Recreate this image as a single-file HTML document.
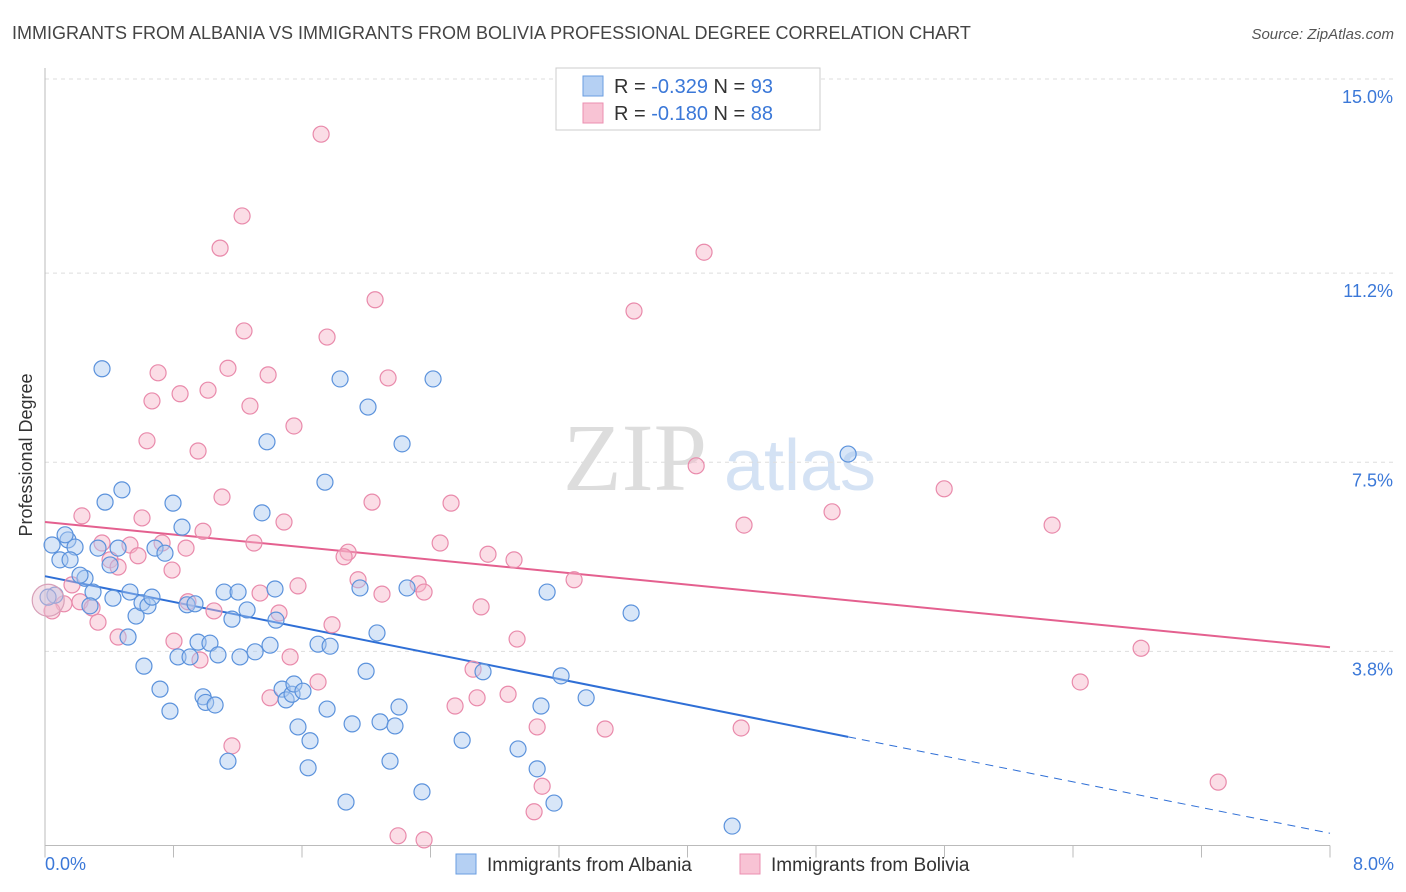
<!DOCTYPE html>
<html><head><meta charset="utf-8"><style>
body{margin:0;background:#fff;font-family:"Liberation Sans",sans-serif;}
svg{display:block}
</style></head><body>
<svg id="chart" width="1406" height="892">
<text x="12" y="39" font-size="18" fill="#444">IMMIGRANTS FROM ALBANIA VS IMMIGRANTS FROM BOLIVIA PROFESSIONAL DEGREE CORRELATION CHART</text>
<text x="1394" y="39" font-size="15" fill="#555" font-style="italic" text-anchor="end">Source: ZipAtlas.com</text>
<text x="32" y="455" font-size="18" fill="#333" text-anchor="middle" transform="rotate(-90 32 455)">Professional Degree</text>
<g>
<text x="635" y="490" font-size="96" fill="#ddd" font-family="Liberation Serif,serif" text-anchor="middle">ZIP</text>
<text x="800" y="490" font-size="72" fill="#d4e2f4" text-anchor="middle">atlas</text>
</g>
<g id="grid"></g><g id="lines"></g><g id="pts"></g>
<g>
<rect x="556" y="68" width="264" height="62" fill="#fff" stroke="#ccc"/>
<rect x="583" y="76" width="20" height="20" fill="#b5d0f3" stroke="#6a9ee0"/>
<text x="614" y="93" font-size="20" fill="#333">R = <tspan fill="#3b78d8">-0.329</tspan>   N = <tspan fill="#3b78d8">93</tspan></text>
<rect x="583" y="103" width="20" height="20" fill="#f8c3d4" stroke="#eb8fb0"/>
<text x="614" y="120" font-size="20" fill="#333">R = <tspan fill="#3b78d8">-0.180</tspan>   N = <tspan fill="#3b78d8">88</tspan></text>
</g>
<g>
<rect x="456" y="854" width="20" height="20" fill="#b5d0f3" stroke="#6a9ee0"/>
<text x="487" y="871" font-size="19" fill="#333">Immigrants from Albania</text>
<rect x="740" y="854" width="20" height="20" fill="#f8c3d4" stroke="#eb8fb0"/>
<text x="771" y="871" font-size="19" fill="#333">Immigrants from Bolivia</text>
</g>
</svg>
<script>
const yTicks=[15.0,11.2,7.5,3.8];
const yTickLabels=["15.0%","11.2%","7.5%","3.8%"];
const xEndLabels=["0.0%","8.0%"];
const blueX=[0.355,0.044,0.093,0.143,0.187,0.125,0.249,0.218,0.299,0.280,0.330,0.374,0.479,0.405,0.455,0.529,0.423,0.517,0.567,0.604,0.641,0.666,0.616,0.685,0.747,0.716,0.778,0.797,0.853,0.884,0.934,0.828,0.903,0.953,0.984,1.00,1.027,1.059,1.077,1.115,1.164,1.202,1.214,1.258,1.139,1.308,1.351,1.382,1.401,1.432,1.438,1.476,1.501,1.538,1.550,1.606,1.575,1.650,1.638,1.700,1.743,1.756,1.775,1.837,1.874,1.912,1.961,1.999,2.011,2.067,2.086,2.179,2.204,2.148,2.223,2.254,2.347,2.416,2.597,2.727,2.945,3.064,3.088,3.126,3.169,3.213,3.369,3.649,4.278,5.000,0.062,0.019,0.156];
const blueY=[9.33,5.88,5.59,5.98,5.84,6.08,5.23,5.29,4.96,4.69,5.82,6.72,6.96,5.49,5.82,4.96,4.84,4.08,4.49,4.75,4.69,4.86,3.51,5.82,5.72,3.06,2.63,6.70,6.23,4.71,4.73,3.69,3.69,3.98,2.91,2.80,3.96,2.75,3.73,4.96,4.43,4.96,3.69,4.61,1.65,3.79,6.51,7.90,3.92,5.02,4.41,3.06,2.85,2.96,3.16,3.02,2.32,2.05,1.52,3.94,7.11,2.67,3.90,9.13,0.85,2.38,5.04,3.41,8.58,4.16,2.42,2.34,2.71,1.65,7.86,5.04,1.05,9.13,2.06,3.40,1.89,1.50,2.73,4.96,0.83,3.32,2.89,4.55,0.38,7.66,4.90,4.86,5.59];
const pinkX=[1.719,1.227,1.090,4.103,2.055,3.667,1.239,1.756,0.704,1.139,1.389,2.136,0.841,1.015,0.666,1.276,1.550,0.635,0.953,4.054,5.598,1.102,2.036,2.528,0.230,0.604,1.488,4.900,4.352,6.270,0.984,0.355,0.529,0.729,0.878,2.460,1.301,1.887,1.862,2.758,2.920,0.405,0.579,0.455,0.791,0.168,1.949,1.575,2.323,3.294,2.360,1.339,2.098,0.890,0.218,0.118,0.293,0.044,1.052,1.457,2.715,0.330,0.455,1.787,0.803,2.939,1.526,0.965,6.824,2.665,1.700,1.401,2.883,2.690,2.553,6.445,3.064,3.487,4.334,1.164,3.095,3.045,7.304,2.198,2.360];
const pinkY=[13.92,12.32,11.69,11.61,10.68,10.46,10.07,9.95,9.25,9.34,9.21,9.15,8.84,8.91,8.70,8.60,8.21,7.92,7.72,7.43,6.98,6.82,6.72,6.70,6.45,6.41,6.33,6.53,6.27,6.27,6.15,5.92,5.88,5.92,5.82,5.92,5.92,5.74,5.65,5.70,5.59,5.59,5.67,5.45,5.39,5.10,5.20,5.08,5.12,5.20,4.96,4.94,4.92,4.77,4.77,4.73,4.65,4.59,4.59,4.55,4.67,4.37,4.08,4.32,4.00,4.04,3.69,3.63,3.86,3.45,3.20,2.89,2.96,2.89,2.73,3.20,2.32,2.28,2.30,1.95,1.16,0.66,1.24,0.19,0.11];
const bigX=[0.02];const bigY=[4.80];
const blueLine=[5.27,0.24];const blueSolidEnd=5.0;
const pinkLine=[6.33,3.88];
const X0=45,X1=1330,Y15=79,PPU=51.1;
const sx=v=>X0+(v/8)*(X1-X0);
const sy=v=>Y15+(15-v)*PPU;
const NS="http://www.w3.org/2000/svg";
function mk(t,a,p){const e=document.createElementNS(NS,t);for(const k in a)e.setAttribute(k,a[k]);p.appendChild(e);return e;}
const grid=document.getElementById('grid'),lines=document.getElementById('lines'),pts=document.getElementById('pts');
yTicks.forEach((v,i)=>{
const l=mk('line',{x1:X0,x2:1394,y1:sy(v),y2:sy(v),stroke:'#ddd','stroke-dasharray':'4,4'},grid);


const t=mk('text',{x:1393,y:sy(v)+24,'font-size':18,fill:'#3b78d8','text-anchor':'end'},grid);
t.textContent=yTickLabels[i];


});
const ax=mk('line',{x1:X0,x2:X0,y1:68,y2:sy(0),stroke:'#bbb'},grid);


const bx=mk('line',{x1:X0,x2:X1,y1:sy(0),y2:sy(0),stroke:'#bbb'},grid);


for(let i=0;i<=10;i++){
const tk=mk('line',{x1:sx(i*0.8),x2:sx(i*0.8),y1:sy(0),y2:sy(0)+12,stroke:'#bbb'},grid);


}
[[0,'start',45],[8,'end',1394]].forEach((d,i)=>{
const t=mk('text',{x:d[2],y:870,'font-size':18,fill:'#3b78d8','text-anchor':d[1]},grid);
t.textContent=xEndLabels[i];


});
function dot(x,y,r,f,s,name){
const c=mk('circle',{cx:sx(x),cy:sy(y),r:r,fill:f,'fill-opacity':0.45,stroke:s,'stroke-width':1.2},pts);


}
pinkX.forEach((x,i)=>dot(x,pinkY[i],8,'#f6b3c8','#e98aab','bolivia-point'));
blueX.forEach((x,i)=>dot(x,blueY[i],8,'#a9c8f0','#5b92dc','albania-point'));
bigX.forEach((x,i)=>dot(x,bigY[i],16,'#e8bfd0','#d8a0b8','large-point'));
const bl=v=>blueLine[0]+(blueLine[1]-blueLine[0])*v/8;
const b1=mk('line',{x1:sx(0),y1:sy(bl(0)),x2:sx(blueSolidEnd),y2:sy(bl(blueSolidEnd)),stroke:'#2f6fd6','stroke-width':2},lines);


const b2=mk('line',{x1:sx(blueSolidEnd),y1:sy(bl(blueSolidEnd)),x2:sx(8),y2:sy(bl(8)),stroke:'#2f6fd6','stroke-width':1,'stroke-dasharray':'8,6'},lines);


const p1=mk('line',{x1:sx(0),y1:sy(pinkLine[0]),x2:sx(8),y2:sy(pinkLine[1]),stroke:'#e4608f','stroke-width':2},lines);


</script>
</body></html>
